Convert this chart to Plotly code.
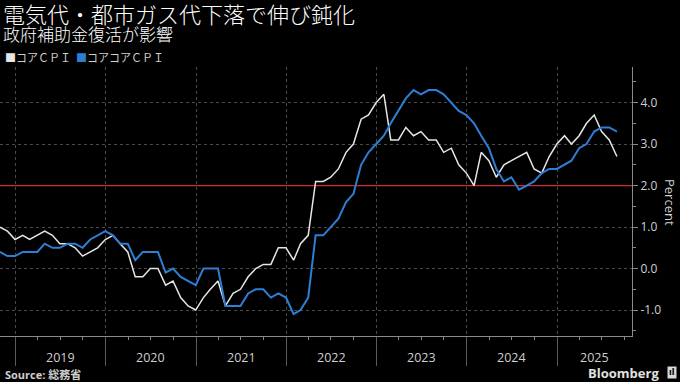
import pandas as pd
import plotly.graph_objects as go

# ---------------- data ----------------
start_month = "2018-10-31"   # first monthly observation (month-end)
core_cpi = [1.0, 0.9, 0.7, 0.8, 0.7, 0.8, 0.9, 0.8, 0.6, 0.6, 0.5, 0.3, 0.4, 0.5, 0.7,
            0.8, 0.6, 0.4, -0.2, -0.2, 0.0, 0.0, -0.4, -0.3, -0.7, -0.9, -1.0,
            -0.7, -0.5, -0.3, -0.9, -0.6, -0.5, -0.2, 0.0, 0.1, 0.1, 0.5, 0.5,
            0.2, 0.6, 0.8, 2.1, 2.1, 2.2, 2.4, 2.8, 3.0, 3.6, 3.7, 4.0,
            4.2, 3.1, 3.1, 3.4, 3.2, 3.3, 3.1, 3.1, 2.8, 2.9, 2.5, 2.3,
            2.0, 2.8, 2.6, 2.2, 2.5, 2.6, 2.7, 2.8, 2.4, 2.3, 2.7, 3.0,
            3.2, 3.0, 3.2, 3.5, 3.7, 3.3, 3.1, 2.7]
core_core_cpi = [0.4, 0.3, 0.3, 0.4, 0.4, 0.4, 0.6, 0.5, 0.5, 0.6, 0.6, 0.5, 0.7, 0.8, 0.9,
                 0.8, 0.6, 0.6, 0.2, 0.4, 0.4, 0.4, -0.1, 0.0, -0.2, -0.3, -0.4,
                 0.0, 0.0, 0.0, -0.9, -0.9, -0.9, -0.6, -0.5, -0.5, -0.7, -0.6, -0.7,
                 -1.1, -1.0, -0.7, 0.8, 0.8, 1.0, 1.2, 1.6, 1.8, 2.5, 2.8, 3.0,
                 3.2, 3.5, 3.8, 4.1, 4.3, 4.2, 4.3, 4.3, 4.2, 4.0, 3.8, 3.7,
                 3.5, 3.2, 2.9, 2.4, 2.1, 2.2, 1.9, 2.0, 2.1, 2.3, 2.4, 2.4,
                 2.5, 2.6, 2.9, 3.0, 3.3, 3.4, 3.4, 3.3]
series_names = ["コアＣＰＩ", "コアコアＣＰＩ"]
year_labels = ["2019", "2020", "2021", "2022", "2023", "2024", "2025"]
y_tick_values = [-1, 0, 1, 2, 3, 4]
target_rate = 2.0
title_text = "電気代・都市ガス代下落で伸び鈍化"
subtitle_text = "政府補助金復活が影響"
source_text = "Source: 総務省"

# ---------------- build ----------------
dates = pd.date_range(start_month, periods=len(core_cpi), freq="ME")
x_range = ["2018-10-31", "2025-10-31"]

WHITE = "#e6e6e6"
BLUE = "#2d7fd6"
RED = "#d12a2f"
GRID = "#4a4a4a"
AXIS = "#8a8a8a"
TXT = "#cfcfcf"
JP = "Noto Sans CJK JP"

fig = go.Figure()
# 2% target reference line (drawn first so it sits under the CPI lines)
fig.add_trace(go.Scatter(x=x_range, y=[target_rate, target_rate], mode="lines",
                         line=dict(color=RED, width=1.2), hoverinfo="skip",
                         showlegend=False))
fig.add_trace(go.Scatter(x=dates, y=core_cpi, mode="lines", name=series_names[0],
                         line=dict(color=WHITE, width=1.5), showlegend=False))
fig.add_trace(go.Scatter(x=dates, y=core_core_cpi, mode="lines", name=series_names[1],
                         line=dict(color=BLUE, width=2), showlegend=False))

W, H = 680, 382
ml, mr, mt, mb = 0, 48, 67, 46
pw, ph = W - ml - mr, H - mt - mb

def px_x(px):
    return (px - ml) / pw

def px_y(py):
    return (H - mb - py) / ph

fig.update_layout(
    width=W, height=H,
    margin=dict(l=ml, r=mr, t=mt, b=mb, pad=0),
    paper_bgcolor="black", plot_bgcolor="black",
    font=dict(family="Open Sans, " + JP, color=TXT, size=11),
    showlegend=False,
    xaxis=dict(
        type="date", range=x_range, showticklabels=False,
        tickmode="linear", tick0="2019-01-01", dtick="M12",
        ticks="outside", ticklen=29, tickcolor="#5a5a5a", tickwidth=1,
        showgrid=True, gridcolor=GRID, griddash="dot", gridwidth=1,
        showline=True, linecolor=AXIS, linewidth=1,
        minor=dict(tick0="2019-01-01", dtick="M3", ticks="outside", ticklen=3,
                   tickcolor=AXIS, showgrid=False),
        zeroline=False,
    ),
    yaxis=dict(
        side="right", range=[-1.626, 4.857],
        tickmode="array", tickvals=y_tick_values,
        ticktext=[f"{v:.1f}" for v in y_tick_values],
        ticks="outside", ticklen=5, tickcolor=AXIS,
        tickfont=dict(size=12, color=TXT, family="Open Sans"),
        showgrid=True, gridcolor=GRID, griddash="dot", gridwidth=1,
        showline=True, linecolor=AXIS, linewidth=1,
        minor=dict(dtick=0.5, ticks="outside", ticklen=3, tickcolor=AXIS, showgrid=False),
        zeroline=False,
    ),
)

ann = []
# year labels centred on each (visible) year
year_starts = [pd.Timestamp(f"{y}-01-01") for y in year_labels]
range_end = pd.Timestamp(x_range[1])
for i, lab in enumerate(year_labels):
    s = year_starts[i]
    e = year_starts[i + 1] if i + 1 < len(year_starts) else min(pd.Timestamp(f"{int(lab)+1}-01-01"), range_end)
    mid = s + (e - s) / 2
    ann.append(dict(x=mid, y=px_y(357), xref="x", yref="paper", text=lab, showarrow=False,
                    xanchor="center", yanchor="middle",
                    font=dict(size=12.5, color=TXT, family="Open Sans")))

ann.append(dict(x=px_x(1), y=px_y(12.5), xref="paper", yref="paper", text=title_text,
                showarrow=False, xanchor="left", yanchor="middle",
                font=dict(size=22, color="white", family=JP, weight=300)))
ann.append(dict(x=px_x(1), y=px_y(33), xref="paper", yref="paper", text=subtitle_text,
                showarrow=False, xanchor="left", yanchor="middle",
                font=dict(size=17, color="white", family=JP, weight=300)))
legend_html = (f"<span style='color:{WHITE}'>■</span>{series_names[0]}  "
               f"<span style='color:{BLUE}'>■</span>{series_names[1]}")
ann.append(dict(x=px_x(3), y=px_y(57), xref="paper", yref="paper", text=legend_html,
                showarrow=False, xanchor="left", yanchor="middle",
                font=dict(size=11, color=TXT, family=JP)))
ann.append(dict(x=px_x(670), y=px_y(202), xref="paper", yref="paper", text="Percent",
                showarrow=False, xanchor="center", yanchor="middle", textangle=90,
                font=dict(size=13, color=TXT, family="Open Sans")))
ann.append(dict(x=px_x(3), y=px_y(374), xref="paper", yref="paper", text=f"<b>{source_text}</b>",
                showarrow=False, xanchor="left", yanchor="middle",
                font=dict(size=11, color=TXT, family="Open Sans, " + JP)))
ann.append(dict(x=px_x(661), y=px_y(373), xref="paper", yref="paper", text="<b>Bloomberg</b>",
                showarrow=False, xanchor="right", yanchor="middle",
                font=dict(size=13, color="#e0e0e0", family="Open Sans")))
ann.append(dict(x=px_x(672), y=px_y(373), xref="paper", yref="paper", text="<b>ıl</b>",
                showarrow=False, xanchor="center", yanchor="middle",
                bgcolor="#d8d8d8", borderpad=1,
                font=dict(size=8, color="black", family="DejaVu Sans")))
fig.update_layout(annotations=ann)

fig.write_html("out.html", config={"displayModeBar": False},
               post_script="document.body.style.margin='0';document.body.style.background='black';")
